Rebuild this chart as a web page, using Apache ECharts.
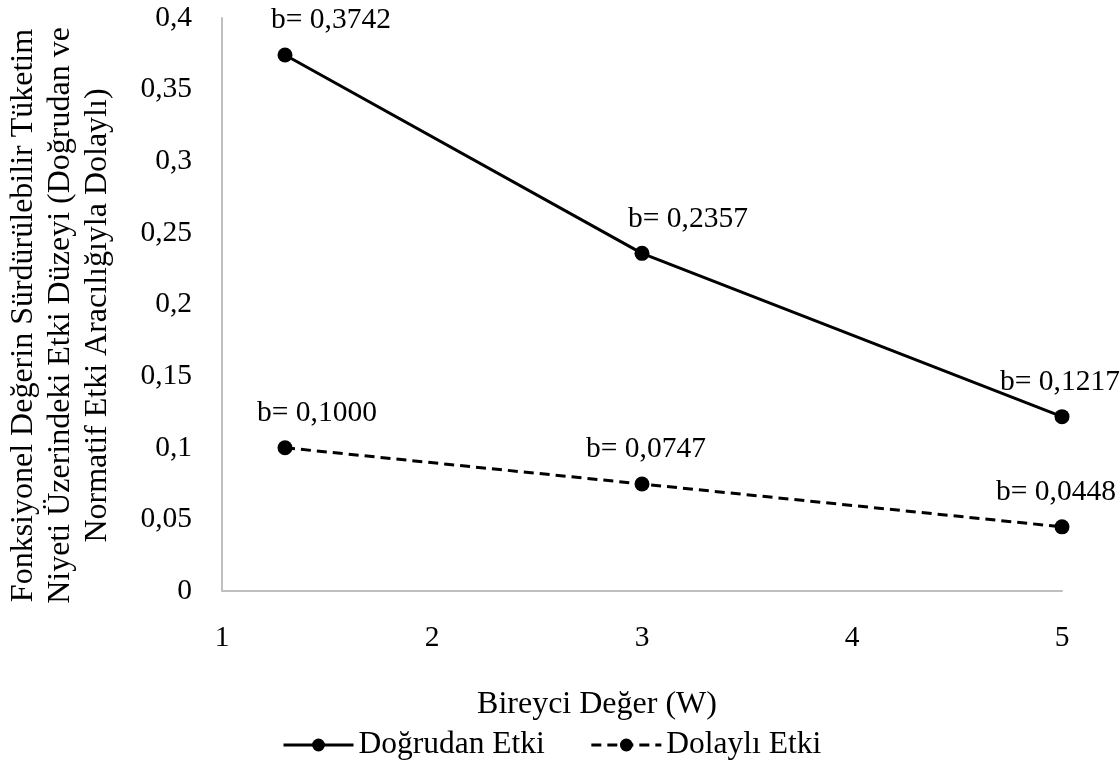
<!DOCTYPE html>
<html>
<head>
<meta charset="utf-8">
<script src="https://cdn.jsdelivr.net/npm/echarts@6/dist/echarts.min.js"></script>
<style>
  html, body { margin: 0; padding: 0; background: #fff; }
  #main { width: 1120px; height: 769px; }
</style>
</head>
<body>
<div id="main"></div>
<script>
var myChart = echarts.init(document.getElementById('main'));

// Data
const xValues = [1.3, 3, 5];
const directEffect = [0.3742, 0.2357, 0.1217];
const indirectEffect = [0.1000, 0.0747, 0.0448];
const seriesNames = ['Doğrudan Etki', 'Dolaylı Etki'];

// label nudges so they sit like the original
const directOffsets = [[46, 0], [46, 0], [-2, 0]];
const indirectOffsets = [[32, 0], [4, 0], [-6, 0]];

const font = 'Liberation Serif';
const fs = 29.5;
const fmt = v => String(v).replace('.', ',');

function points(ys, offsets) {
    return ys.map((y, i) => ({
        value: [xValues[i], y],
        label: { offset: offsets[i] }
    }));
}

var option = {
    backgroundColor: '#fff',
    textStyle: { fontFamily: font, color: '#000' },
    grid: { left: 222, right: 58, top: 18, bottom: 178, outerBoundsMode: 'none' },
    legend: {
        bottom: 3,
        left: 277,
        itemWidth: 70,
        itemHeight: 16,
        itemGap: 45,
        lineStyle: { width: 3 },
        textStyle: { fontFamily: font, fontSize: 31.5, color: '#000' },
        data: seriesNames
    },
    xAxis: {
        type: 'value',
        min: 1,
        max: 5,
        interval: 1,
        name: 'Bireyci Değer (W)',
        nameLocation: 'middle',
        nameGap: 98,
        nameTextStyle: { fontFamily: font, fontSize: 32, color: '#000', padding: [0, 90, 0, 0] },
        axisLine: { lineStyle: { color: '#bfbfbf', width: 2 } },
        axisTick: { show: false },
        splitLine: { show: false },
        axisLabel: { fontFamily: font, fontSize: fs, color: '#000', margin: 32 }
    },
    yAxis: {
        type: 'value',
        min: 0,
        max: 0.4,
        interval: 0.05,
        name: 'Fonksiyonel Değerin Sürdürülebilir Tüketim\nNiyeti Üzerindeki Etki Düzeyi (Doğrudan ve\nNormatif Etki Aracılığıyla Dolaylı)',
        nameLocation: 'middle',
        nameGap: 106,
        nameRotate: 90,
        nameTextStyle: {
            fontFamily: font, fontSize: 32, color: '#000', lineHeight: 37,
            padding: [0, 22, 0, 0]
        },
        axisLine: { show: true, lineStyle: { color: '#bfbfbf', width: 2 } },
        axisTick: { show: false },
        splitLine: { show: false },
        axisLabel: {
            fontFamily: font, fontSize: fs, color: '#000', margin: 30,
            formatter: v => fmt(+v.toFixed(2))
        }
    },
    series: [
        {
            name: seriesNames[0],
            type: 'line',
            data: points(directEffect, directOffsets),
            symbol: 'circle',
            symbolSize: 15,
            itemStyle: { color: '#000' },
            lineStyle: { color: '#000', width: 3 },
            label: {
                show: true,
                position: 'top',
                distance: 12,
                fontFamily: font,
                fontSize: fs,
                color: '#000',
                formatter: p => 'b= ' + p.value[1].toFixed(4).replace('.', ',')
            }
        },
        {
            name: seriesNames[1],
            type: 'line',
            data: points(indirectEffect, indirectOffsets),
            symbol: 'circle',
            symbolSize: 15,
            itemStyle: { color: '#000' },
            lineStyle: { color: '#000', width: 3, type: [10, 6] },
            label: {
                show: true,
                position: 'top',
                distance: 12,
                fontFamily: font,
                fontSize: fs,
                color: '#000',
                formatter: p => 'b= ' + p.value[1].toFixed(4).replace('.', ',')
            }
        }
    ]
};

myChart.setOption(option);
</script>
</body>
</html>
